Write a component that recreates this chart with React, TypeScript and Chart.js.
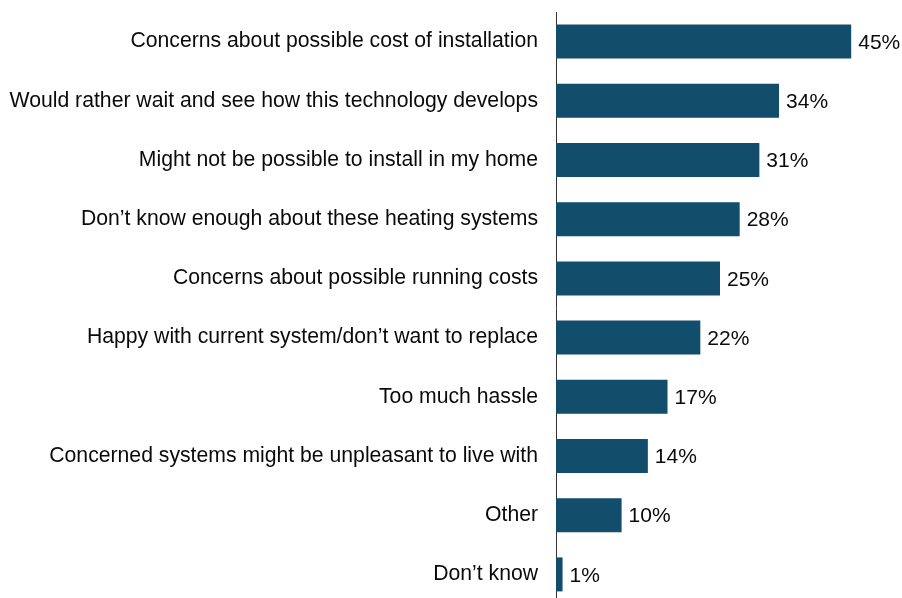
import React, { useEffect, useRef } from "react";
import { Chart, registerables } from "chart.js";

Chart.register(...registerables);

const categories = [
  "Concerns about possible cost of installation",
  "Would rather wait and see how this technology develops",
  "Might not be possible to install in my home",
  "Don\u2019t know enough about these heating systems",
  "Concerns about possible running costs",
  "Happy with current system/don\u2019t want to replace",
  "Too much hassle",
  "Concerned systems might be unpleasant to live with",
  "Other",
  "Don\u2019t know",
];
const values = [45, 34, 31, 28, 25, 22, 17, 14, 10, 1];

const FONT = "'Liberation Sans', Arial, sans-serif";

const labelPlugin = {
  id: "barLabels",
  afterDatasetsDraw(chart: any) {
    const ctx = chart.ctx;
    const meta = chart.getDatasetMeta(0);
    ctx.save();
    ctx.font = `21px ${FONT}`;
    ctx.fillStyle = "#0a0a0a";
    ctx.textAlign = "left";
    ctx.textBaseline = "middle";
    meta.data.forEach((bar: any, i: number) => {
      ctx.fillText(`${values[i]}%`, bar.x + 7, bar.y + 1.5);
    });
    ctx.restore();
  },
};

export default function App() {
  const ref = useRef<HTMLCanvasElement | null>(null);
  useEffect(() => {
    if (!ref.current) return;
    const chart = new Chart(ref.current, {
      type: "bar",
      data: {
        labels: categories,
        datasets: [
          {
            data: values,
            backgroundColor: "#124d6b",
            borderColor: "#124d6b",
            borderWidth: 0,
            barPercentage: 0.574,
            categoryPercentage: 1,
          },
        ],
      },
      options: {
        indexAxis: "y",
        animation: false,
        responsive: false,
        maintainAspectRatio: false,
        layout: { padding: { top: 12, bottom: 6, left: 0, right: 18 } },
        plugins: { legend: { display: false }, tooltip: { enabled: false } },
        scales: {
          x: {
            min: 0,
            max: 50,
            display: false,
            grid: { display: false },
          },
          y: {
            afterFit(scale: any) {
              scale.width = 556;
              scale.paddingTop = 0;
              scale.paddingBottom = 0;
            },
            grid: { display: false, drawTicks: false },
            border: { display: true, color: "#333333", width: 1 },
            ticks: {
              color: "#0a0a0a",
              padding: 18,
              autoSkip: false,
              font: { family: FONT, size: 21.2 },
            },
          },
        },
      },
      plugins: [labelPlugin],
    });
    return () => chart.destroy();
  }, []);
  return (
    <div style={{ position: "fixed", left: 0, top: 0, width: 902, height: 610, background: "#fff" }}>
      <canvas ref={ref} width={902} height={610} style={{ width: 902, height: 610, display: "block" }} />
    </div>
  );
}
